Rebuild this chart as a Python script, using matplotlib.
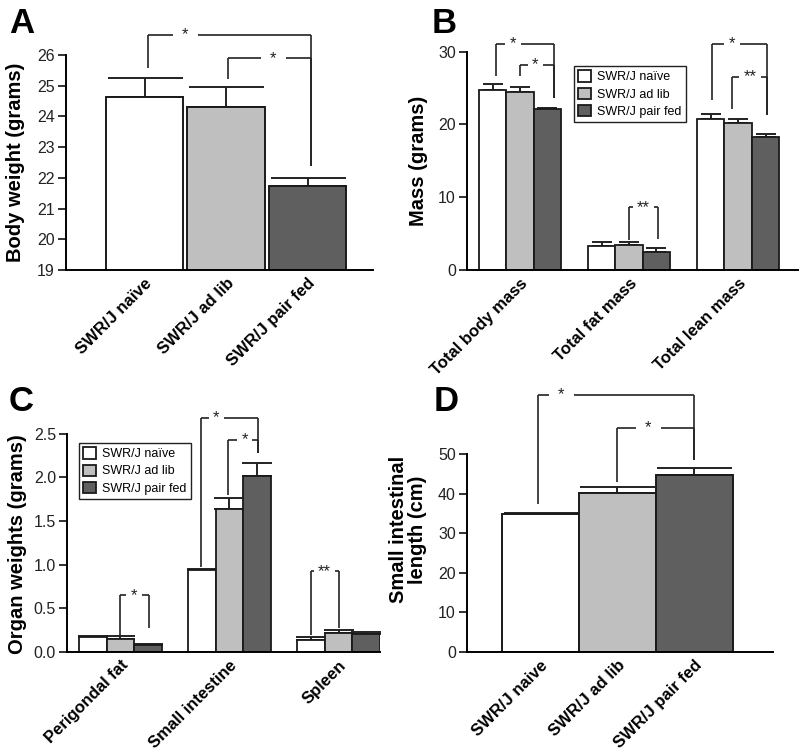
import matplotlib.pyplot as plt
import numpy as np

plt.rcParams['font.family'] = ['Liberation Sans', 'DejaVu Sans']

groups = ['SWR/J naïve', 'SWR/J ad lib', 'SWR/J pair fed']
colors = ['#ffffff', '#bfbfbf', '#5f5f5f']

# A - body weight
body_weight = [24.65, 24.3, 21.75]
body_weight_err = [0.6, 0.67, 0.25]

# B - body composition
mass_cats = ['Total body mass', 'Total fat mass', 'Total lean mass']
mass_naive = [24.7, 3.35, 20.75]
mass_naive_err = [0.8, 0.45, 0.7]
mass_adlib = [24.45, 3.42, 20.25]
mass_adlib_err = [0.7, 0.4, 0.45]
mass_pair = [22.05, 2.5, 18.3]
mass_pair_err = [0.15, 0.48, 0.4]

# C - organ weights
organ_cats = ['Perigondal fat', 'Small intestine', 'Spleen']
organ_naive = [0.168, 0.944, 0.138]
organ_naive_err = [0.02, 0.012, 0.034]
organ_adlib = [0.15, 1.64, 0.218]
organ_adlib_err = [0.03, 0.13, 0.038]
organ_pair = [0.077, 2.02, 0.203]
organ_pair_err = [0.02, 0.14, 0.027]

# D - small intestinal length
si_length = [34.8, 40.3, 44.7]
si_length_err = [0.3, 1.35, 1.9]

# brackets: (left x, left bottom, right x, right bottom, top, star x, label)
brackets_a = [(0.04, 25.58, 2.04, 22.39, 26.65, 0.5, '*'),
              (1.02, 25.22, 2.04, 22.39, 25.9, 1.58, '*')]
brackets_b = [(-0.22, 26.6, 0.31, 23.6, 31.1, -0.064, '*'),
              (0.0, 26.6, 0.31, 23.6, 28.2, 0.14, '*'),
              (1.0, 4.1, 1.27, 4.2, 8.6, 1.13, '**'),
              (1.76, 23.3, 2.27, 21.3, 31.1, 1.945, '*'),
              (1.945, 22.1, 2.27, 21.3, 26.55, 2.11, '**')]
brackets_c = [(0.0, 0.183, 0.26, 0.27, 0.65, 0.124, '*'),
              (0.74, 0.97, 1.26, 2.28, 2.68, 0.88, '*'),
              (0.986, 1.80, 1.26, 2.28, 2.43, 1.14, '*'),
              (1.75, 0.2, 2.0, 0.27, 0.925, 1.87, '**')]
brackets_d = [(-0.03, 37.4, 2.0, 48.5, 65.1, 0.27, '*'),
              (1.0, 42.9, 2.0, 48.5, 56.7, 1.4, '*')]

W, H = 800, 756
fig = plt.figure(figsize=(8, 7.56), dpi=100)


def px_axes(l, r, b, t):
    return fig.add_axes([l / W, 1 - b / H, (r - l) / W, (b - t) / H])


def style(ax, ybounds, yticks, ticklabels):
    for s in ['top', 'right']:
        ax.spines[s].set_visible(False)
    ax.spines['left'].set_linewidth(1.4)
    ax.spines['bottom'].set_linewidth(1.4)
    ax.spines['left'].set_bounds(*ybounds)
    ax.set_yticks(yticks)
    ax.set_yticklabels(ticklabels)
    ax.tick_params(axis='y', length=6, width=1.3, labelsize=11.5, pad=2, colors='#222222')
    ax.tick_params(axis='x', length=0, pad=4)
    ax.set_xticklabels(ax.get_xticklabels(), rotation=45, ha='right',
                       rotation_mode='anchor', fontsize=12, fontweight='bold')


def draw_brackets(ax, brackets, gap, lw=1.2):
    for xl, yl, xr, yr, top, xs, lab in brackets:
        kw = dict(color='#222222', lw=lw, clip_on=False, solid_capstyle='butt')
        ax.plot([xl, xl], [yl, top], **kw)
        ax.plot([xr, xr], [yr, top], **kw)
        g = gap * (1.4 if len(lab) > 1 else 1.0)
        ax.plot([xl, xs - g], [top, top], **kw)
        ax.plot([xs + g, xr], [top, top], **kw)
        ax.text(xs, top, lab, ha='center', va='center', fontsize=12, color='#222222')


def errs(ax, x, y, e, cap):
    ax.errorbar(x, y, yerr=[np.zeros(len(e)), e], fmt='none', ecolor='#222222',
                elinewidth=1.4, capsize=cap, capthick=1.4, zorder=1)


def legend(ax, x, y):
    ax.legend(loc='upper left', bbox_to_anchor=(x / W, 1 - y / H), bbox_transform=fig.transFigure,
              fontsize=9, frameon=True, fancybox=False, edgecolor='#222222', handlelength=1.0,
              handleheight=1.0, handletextpad=0.5, borderpad=0.35, labelspacing=0.35,
              borderaxespad=0, framealpha=1)


# ---------- A ----------
axA = px_axes(66, 373, 270, 30.5)
xa = np.arange(3)
errs(axA, xa, body_weight, body_weight_err, 27)
axA.bar(xa, body_weight, width=0.95, color=colors, edgecolor='#1a1a1a', linewidth=1.4,
        bottom=0, zorder=2)
axA.set_ylim(19, 26.8)
axA.set_xlim(-0.963, 2.80)
axA.set_xticks(xa)
axA.set_xticklabels(groups)
style(axA, (19, 26), range(19, 27), [str(v) for v in range(19, 27)])
axA.set_ylabel('Body weight (grams)', fontsize=14.5, fontweight='bold')
axA.yaxis.set_label_coords(-0.134, 0.448)
draw_brackets(axA, brackets_a, 0.15)

# ---------- B ----------
axB = px_axes(467, 798, 270, 37)
w = 0.252
xb = np.arange(3)
for i, (vals, ev) in enumerate([(mass_naive, mass_naive_err), (mass_adlib, mass_adlib_err),
                                (mass_pair, mass_pair_err)]):
    errs(axB, xb + (i - 1) * w, vals, ev, 7.5)
    axB.bar(xb + (i - 1) * w, vals, width=w, color=colors[i], edgecolor='#1a1a1a',
            linewidth=1.3, label=groups[i], zorder=2)
axB.set_ylim(0, 32)
axB.set_xlim(-0.486, 2.55)
axB.set_xticks(xb)
axB.set_xticklabels(mass_cats)
style(axB, (0, 30), [0, 10, 20, 30], ['0', '10', '20', '30'])
axB.set_ylabel('Mass (grams)', fontsize=14.5, fontweight='bold')
axB.yaxis.set_label_coords(-0.118, 0.47)
draw_brackets(axB, brackets_b, 0.07)
legend(axB, 574, 66)

# ---------- C ----------
axC = px_axes(67, 380, 652, 412)
xc = np.arange(3)
for i, (vals, ev) in enumerate([(organ_naive, organ_naive_err), (organ_adlib, organ_adlib_err),
                                (organ_pair, organ_pair_err)]):
    errs(axC, xc + (i - 1) * w, vals, ev, 11)
    axC.bar(xc + (i - 1) * w, vals, width=w, color=colors[i], edgecolor='#1a1a1a',
            linewidth=1.3, label=groups[i], zorder=2)
axC.set_ylim(0, 2.75)
axC.set_xlim(-0.49, 2.38)
axC.set_xticks(xc)
axC.set_xticklabels(organ_cats)
cticks = [0, 0.5, 1.0, 1.5, 2.0, 2.5]
style(axC, (0, 2.5), cticks, ['%.1f' % v for v in cticks])
axC.set_ylabel('Organ weights (grams)', fontsize=14.5, fontweight='bold')
axC.yaxis.set_label_coords(-0.128, 0.45)
draw_brackets(axC, brackets_c, 0.07)
legend(axC, 79, 443)

# ---------- D ----------
axD = px_axes(467, 773, 652, 391)
xd = np.arange(3)
errs(axD, xd, si_length, si_length_err, 27)
axD.bar(xd, si_length, width=1.0, color=colors, edgecolor='#1a1a1a', linewidth=1.4, zorder=2)
axD.set_ylim(0, 66)
axD.set_xlim(-0.955, 3.02)
axD.set_xticks(xd)
axD.set_xticklabels(['SWR/J naive', 'SWR/J ad lib', 'SWR/J pair fed'])
style(axD, (0, 50), range(0, 51, 10), [str(v) for v in range(0, 51, 10)])
axD.set_ylabel('Small intestinal\nlength (cm)', fontsize=14.5, fontweight='bold', linespacing=1.0)
axD.yaxis.set_label_coords(-0.131, 0.47)
draw_brackets(axD, brackets_d, 0.16)

# panel letters
for lab, x, y in [('A', 9, 33), ('B', 432, 33), ('C', 9, 411), ('D', 434, 411)]:
    fig.text(x / W, 1 - y / H, lab, fontsize=25, fontweight='bold', ha='left', va='baseline')

fig.savefig('out.png', dpi=100, facecolor='white')
